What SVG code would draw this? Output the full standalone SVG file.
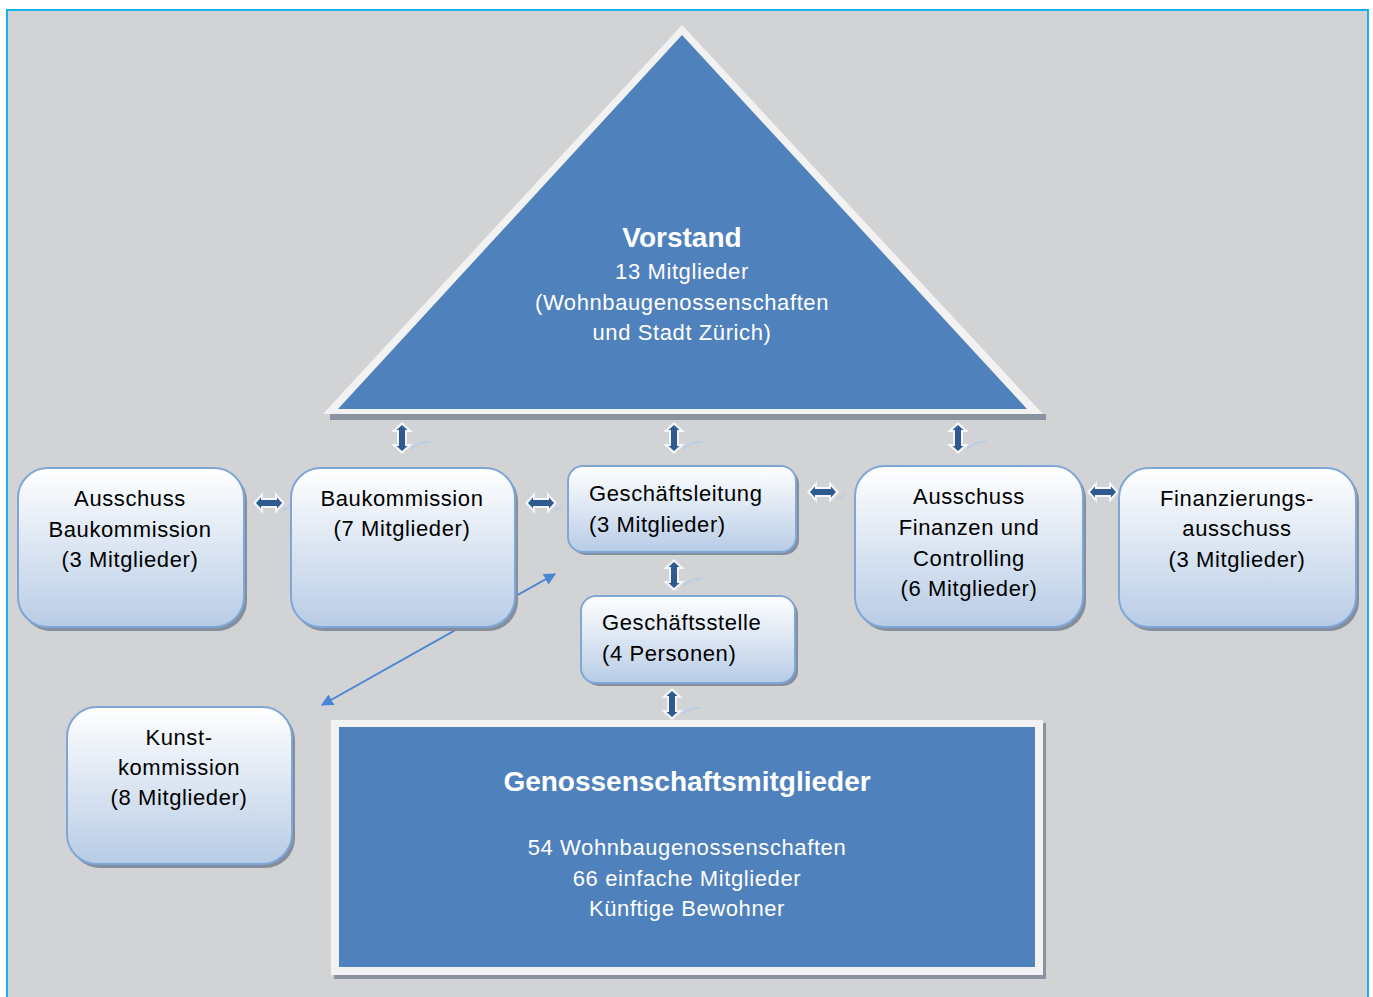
<svg xmlns="http://www.w3.org/2000/svg" width="1373" height="997" viewBox="0 0 1373 997">
<defs>
<linearGradient id="bg" x1="0" y1="0" x2="0" y2="1">
<stop offset="0" stop-color="#ffffff"/>
<stop offset="1" stop-color="#b8cce6"/>
</linearGradient>
<linearGradient id="ag" x1="0" y1="0" x2="1" y2="0">
<stop offset="0" stop-color="#4f7fb8"/>
<stop offset="1" stop-color="#23497a"/>
</linearGradient>
<marker id="ah" viewBox="0 0 10 10" refX="9" refY="5" markerWidth="12" markerHeight="12" markerUnits="userSpaceOnUse" orient="auto-start-reverse">
<path d="M0,0 L10,5 L0,10 z" fill="#4a86d4"/>
</marker>
<g id="dv">
<path d="M0,-16 L11,-6 L5,-6 L5,6 L11,6 L0,16 L-11,6 L-5,6 L-5,-6 L-11,-6 z" fill="#f4f6f9"/>
<path d="M0,-13 L5.5,-8 L3,-8 L3,8 L5.5,8 L0,13 L-5.5,8 L-3,8 L-3,-8 L-5.5,-8 z" fill="#2f5a8f"/>
<path d="M9,11 Q17,3 28,4" stroke="#b9cde6" stroke-width="2" fill="none"/>
</g>
<g id="dh">
<path d="M-16,0 L-6,-11 L-6,-5 L6,-5 L6,-11 L16,0 L6,11 L6,5 L-6,5 L-6,11 z" fill="#f4f6f9"/>
<path d="M-13,0 L-8,-5.5 L-8,-3 L8,-3 L8,-5.5 L13,0 L8,5.5 L8,3 L-8,3 L-8,5.5 z" fill="#2f5a8f"/>
<path d="M14,7 Q18,5 22,3" stroke="#b9cde6" stroke-width="1.5" fill="none"/>
</g>
</defs>
<style>
.box{fill:url(#bg);stroke:#7ea6d6;stroke-width:2}
.sh{fill:#858e9c}
.t{font-family:"Liberation Sans",Arial,sans-serif;font-size:22px;letter-spacing:0.6px;fill:#000;text-anchor:middle}
.w{font-family:"Liberation Sans",Arial,sans-serif;font-size:22px;letter-spacing:0.6px;fill:#fff;text-anchor:middle}
.wb{font-family:"Liberation Sans",Arial,sans-serif;font-size:28px;font-weight:bold;fill:#fff;text-anchor:middle}
</style>
<rect x="0" y="0" width="1373" height="997" fill="#ffffff"/>
<rect x="7" y="10" width="1361" height="990" fill="#d2d3d5" stroke="#1ab0e8" stroke-width="2"/>

<g id="connectors">
<line x1="322" y1="705" x2="555" y2="574" stroke="#4a86d4" stroke-width="2" marker-start="url(#ah)" marker-end="url(#ah)"/>
<use href="#dv" x="402" y="438"/>
<use href="#dv" x="674" y="438"/>
<use href="#dv" x="958" y="438"/>
<use href="#dv" x="674" y="575"/>
<use href="#dv" x="672" y="704"/>
<use href="#dh" x="269" y="503"/>
<use href="#dh" x="541" y="503"/>
<use href="#dh" x="823" y="492"/>
<use href="#dh" x="1103" y="492"/>
</g>

<g id="vorstand">
<polygon points="330,414 1046,414 1046,420 330,420" fill="#8a93a0"/>
<polygon points="682,25 1043,414 323,414" fill="#f2f2f2"/>
<polygon points="682,35 1027,409 338,409" fill="#4f81bd"/>
<text class="wb" x="682" y="247">Vorstand</text>
<text class="w" x="682" y="279">13 Mitglieder</text>
<text class="w" x="682" y="310">(Wohnbaugenossenschaften</text>
<text class="w" x="682" y="340">und Stadt Zürich)</text>
</g>

<g id="ausschuss-bau">
<rect class="sh" x="21" y="471" width="226" height="160" rx="30"/>
<rect class="box" x="18" y="468" width="226" height="159" rx="30"/>
<text class="t" x="130" y="506">Ausschuss</text>
<text class="t" x="130" y="537">Baukommission</text>
<text class="t" x="130" y="567">(3 Mitglieder)</text>
</g>

<g id="baukommission">
<rect class="sh" x="294" y="471" width="224" height="160" rx="30"/>
<rect class="box" x="291" y="468" width="224" height="159" rx="30"/>
<text class="t" x="402" y="506">Baukommission</text>
<text class="t" x="402" y="536">(7 Mitglieder)</text>
</g>

<g id="geschaeftsleitung">
<rect class="sh" x="571" y="469" width="228" height="86" rx="15"/>
<rect class="box" x="568" y="466" width="228" height="86" rx="15"/>
<text class="t" x="589" y="501" style="text-anchor:start">Geschäftsleitung</text>
<text class="t" x="589" y="532" style="text-anchor:start">(3 Mitglieder)</text>
</g>

<g id="geschaeftsstelle">
<rect class="sh" x="584" y="599" width="214" height="87" rx="15"/>
<rect class="box" x="581" y="596" width="214" height="87" rx="15"/>
<text class="t" x="602" y="630" style="text-anchor:start">Geschäftsstelle</text>
<text class="t" x="602" y="661" style="text-anchor:start">(4 Personen)</text>
</g>

<g id="ausschuss-finanzen">
<rect class="sh" x="858" y="469" width="228" height="162" rx="30"/>
<rect class="box" x="855" y="466" width="228" height="161" rx="30"/>
<text class="t" x="969" y="504">Ausschuss</text>
<text class="t" x="969" y="535">Finanzen und</text>
<text class="t" x="969" y="566">Controlling</text>
<text class="t" x="969" y="596">(6 Mitglieder)</text>
</g>

<g id="finanzierungsausschuss">
<rect class="sh" x="1122" y="471" width="237" height="160" rx="30"/>
<rect class="box" x="1119" y="468" width="237" height="159" rx="30"/>
<text class="t" x="1237" y="506">Finanzierungs-</text>
<text class="t" x="1237" y="536">ausschuss</text>
<text class="t" x="1237" y="567">(3 Mitglieder)</text>
</g>

<g id="kunstkommission">
<rect class="sh" x="70" y="710" width="225" height="158" rx="30"/>
<rect class="box" x="67" y="707" width="225" height="157" rx="30"/>
<text class="t" x="179" y="745">Kunst-</text>
<text class="t" x="179" y="775">kommission</text>
<text class="t" x="179" y="805">(8 Mitglieder)</text>
</g>

<g id="genossenschaftsmitglieder">
<rect x="334" y="723" width="712" height="256" fill="#8a93a0"/>
<rect x="331" y="720" width="712" height="255" fill="#f2f2f2"/>
<rect x="339" y="727" width="696" height="240" fill="#4f81bd"/>
<text class="wb" x="687" y="791">Genossenschaftsmitglieder</text>
<text class="w" x="687" y="855">54 Wohnbaugenossenschaften</text>
<text class="w" x="687" y="886">66 einfache Mitglieder</text>
<text class="w" x="687" y="916">Künftige Bewohner</text>
</g>
</svg>
